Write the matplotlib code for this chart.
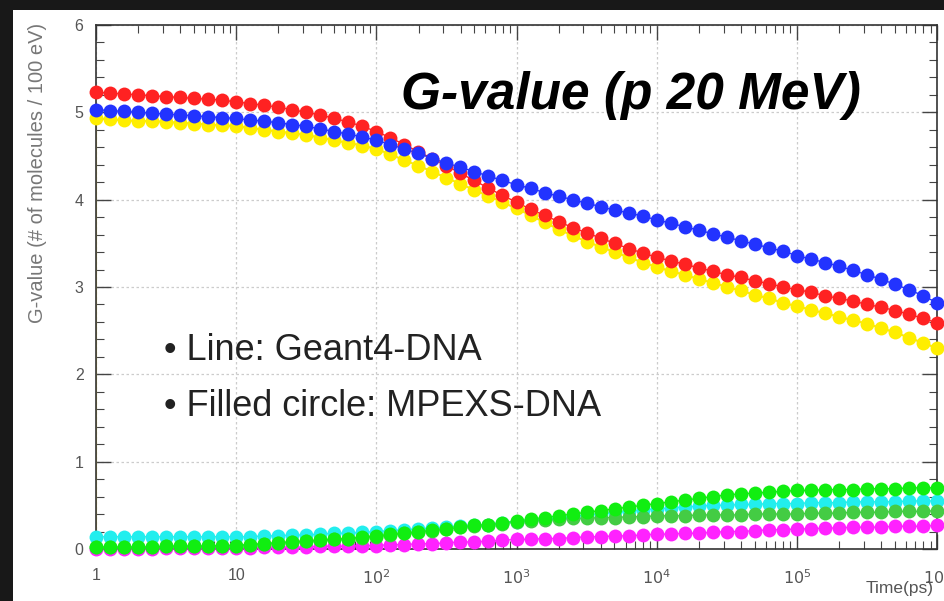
import matplotlib
matplotlib.use("Agg")
import matplotlib.pyplot as plt
from matplotlib.patches import Rectangle
from matplotlib.ticker import FixedLocator, MultipleLocator, LogLocator, NullFormatter

plt.rcParams['font.family'] = ['Liberation Sans', 'DejaVu Sans']

# time points (ps), 10 per decade from 1 to 1e6
time_ps = [round(10 ** (i / 10), 4) for i in range(61)]

red = [5.23, 5.22, 5.21, 5.20, 5.19, 5.18, 5.17, 5.16, 5.15, 5.14, 5.12,
       5.10, 5.08, 5.06, 5.03, 5.00, 4.97, 4.93, 4.89, 4.84, 4.78,
       4.71, 4.63, 4.55, 4.47, 4.39, 4.30, 4.22, 4.13, 4.05, 3.97,
       3.89, 3.82, 3.75, 3.68, 3.62, 3.56, 3.50, 3.44, 3.39, 3.34,
       3.30, 3.26, 3.22, 3.18, 3.14, 3.11, 3.07, 3.04, 3.00, 2.97,
       2.94, 2.90, 2.87, 2.84, 2.80, 2.77, 2.73, 2.69, 2.64, 2.59]

blue = [5.03, 5.02, 5.01, 5.00, 4.99, 4.98, 4.97, 4.96, 4.95, 4.94, 4.93,
        4.91, 4.90, 4.88, 4.86, 4.84, 4.81, 4.78, 4.75, 4.72, 4.68,
        4.63, 4.58, 4.53, 4.47, 4.42, 4.37, 4.32, 4.27, 4.22, 4.17,
        4.13, 4.08, 4.04, 4.00, 3.96, 3.92, 3.88, 3.85, 3.81, 3.77,
        3.73, 3.69, 3.65, 3.61, 3.57, 3.53, 3.49, 3.45, 3.41, 3.36,
        3.32, 3.28, 3.24, 3.19, 3.14, 3.09, 3.03, 2.97, 2.90, 2.82]

yellow = [4.93, 4.92, 4.91, 4.90, 4.90, 4.89, 4.88, 4.87, 4.86, 4.85, 4.84,
          4.82, 4.80, 4.78, 4.76, 4.74, 4.71, 4.68, 4.65, 4.62, 4.58,
          4.52, 4.45, 4.39, 4.32, 4.25, 4.18, 4.11, 4.04, 3.97, 3.90,
          3.82, 3.74, 3.66, 3.59, 3.52, 3.46, 3.40, 3.34, 3.28, 3.23,
          3.18, 3.14, 3.09, 3.05, 3.00, 2.96, 2.91, 2.87, 2.82, 2.78,
          2.74, 2.70, 2.66, 2.62, 2.58, 2.53, 2.48, 2.42, 2.36, 2.30]

lime = [0.02, 0.02, 0.02, 0.02, 0.02, 0.03, 0.03, 0.03, 0.03, 0.04, 0.04,
        0.05, 0.06, 0.07, 0.08, 0.09, 0.10, 0.11, 0.12, 0.14, 0.15,
        0.17, 0.18, 0.20, 0.22, 0.23, 0.25, 0.27, 0.28, 0.30, 0.32,
        0.34, 0.36, 0.38, 0.40, 0.42, 0.44, 0.46, 0.48, 0.50, 0.52,
        0.54, 0.56, 0.58, 0.60, 0.62, 0.63, 0.64, 0.65, 0.66, 0.67,
        0.67, 0.68, 0.68, 0.68, 0.69, 0.69, 0.69, 0.70, 0.70, 0.70]

cyan = [0.14, 0.14, 0.14, 0.14, 0.14, 0.14, 0.14, 0.14, 0.14, 0.14, 0.14,
        0.14, 0.15, 0.15, 0.16, 0.16, 0.17, 0.18, 0.18, 0.19, 0.20,
        0.21, 0.22, 0.23, 0.24, 0.25, 0.26, 0.27, 0.28, 0.30, 0.31,
        0.33, 0.34, 0.36, 0.37, 0.39, 0.40, 0.42, 0.43, 0.45, 0.46,
        0.47, 0.48, 0.49, 0.50, 0.50, 0.51, 0.51, 0.52, 0.52, 0.52,
        0.53, 0.53, 0.53, 0.54, 0.54, 0.54, 0.54, 0.55, 0.55, 0.55]

green = [0.02, 0.02, 0.02, 0.02, 0.02, 0.03, 0.03, 0.03, 0.03, 0.04, 0.04,
         0.05, 0.06, 0.07, 0.08, 0.09, 0.10, 0.11, 0.12, 0.13, 0.14,
         0.16, 0.18, 0.19, 0.21, 0.23, 0.25, 0.26, 0.28, 0.29, 0.31,
         0.32, 0.33, 0.34, 0.35, 0.35, 0.36, 0.36, 0.37, 0.37, 0.38,
         0.38, 0.38, 0.39, 0.39, 0.39, 0.39, 0.40, 0.40, 0.40, 0.40,
         0.41, 0.41, 0.41, 0.42, 0.42, 0.42, 0.43, 0.43, 0.43, 0.44]

magenta = [0.00, 0.00, 0.00, 0.00, 0.00, 0.01, 0.01, 0.01, 0.01, 0.01, 0.01,
           0.01, 0.02, 0.02, 0.02, 0.02, 0.03, 0.03, 0.03, 0.04, 0.04,
           0.05, 0.05, 0.06, 0.06, 0.07, 0.08, 0.08, 0.09, 0.10, 0.11,
           0.11, 0.12, 0.12, 0.13, 0.14, 0.14, 0.15, 0.15, 0.16, 0.17,
           0.17, 0.18, 0.18, 0.19, 0.20, 0.20, 0.21, 0.22, 0.22, 0.23,
           0.23, 0.24, 0.24, 0.25, 0.25, 0.25, 0.26, 0.26, 0.26, 0.27]

yellow_line_start = 0.0

x_ticks = [1, 10, 100, 1000, 1e4, 1e5, 1e6]
x_tick_labels = ['1', '10', '$10^{2}$', '$10^{3}$', '$10^{4}$', '$10^{5}$', '$10^{6}$']
y_ticks = [0, 1, 2, 3, 4, 5, 6]

W, H = 944, 601
fig = plt.figure(figsize=(W / 100, H / 100), dpi=100)
fig.patch.set_facecolor('#181818')
fig.patches.append(Rectangle((13 / W, 0), 1, 1 - 10 / H, transform=fig.transFigure,
                             facecolor='white', edgecolor='none', zorder=-5))

ax = fig.add_axes([96 / W, 1 - 549 / H, (937 - 96) / W, (549 - 25) / H])
ax.set_zorder(2)
ax.set_facecolor('white')
ax.set_xscale('log')
ax.set_xlim(1, 1e6)
ax.set_ylim(0, 6)

series = [
    (magenta, '#ff22ff'),
    (cyan, '#22eeee'),
    (green, '#44cc44'),
    (lime, '#11ee11'),
    (yellow, '#ffee00'),
    (red, '#ff2222'),
    (blue, '#2233ff'),
]
# Geant4-DNA lines
ax.plot([time_ps[0]] + time_ps, [yellow_line_start] + yellow, color='#e8d860', lw=1.5, zorder=2)
for vals, col in series:
    ax.plot(time_ps, vals, color=col, lw=1.0, zorder=2)
# MPEXS-DNA filled circles
for k, (vals, col) in enumerate(series):
    ax.plot(time_ps, vals, linestyle='none', marker='o', ms=10, color=col,
            markeredgewidth=0, zorder=3 + k, clip_on=False)

ax.xaxis.set_major_locator(FixedLocator(x_ticks))
ax.set_xticklabels(x_tick_labels)
ax.xaxis.set_minor_locator(LogLocator(base=10, subs=[2, 3, 4, 5, 6, 7, 8, 9], numticks=20))
ax.xaxis.set_minor_formatter(NullFormatter())
ax.yaxis.set_major_locator(FixedLocator(y_ticks))
ax.yaxis.set_minor_locator(MultipleLocator(0.2))

ax.grid(True, which='major', color='#cccccc', linestyle=(0, (2, 2)), lw=0.9)
ax.tick_params(which='both', direction='in', top=True, right=True, colors='#444444',
               labelsize=11.5, labelcolor='#555555')
ax.tick_params(which='major', length=11, width=1.0)
ax.tick_params(which='minor', length=6, width=0.8)
ax.tick_params(axis='x', pad=14)
ax.tick_params(axis='y', pad=9)
for s in ax.spines.values():
    s.set_color('#333333')
    s.set_linewidth(1.2)

fig.text(38 / W, 1 - 23 / H, 'G-value (# of molecules / 100 eV)', rotation=90,
         ha='center', va='top', fontsize=14.5, color='#777777')
fig.text(934 / W, 1 - 589 / H, 'Time(ps)', ha='right', va='center', fontsize=12.5,
         color='#555555')

fig.text(631 / W, 1 - 95 / H, 'G-value (p 20 MeV)', ha='center', va='center',
         fontsize=37, fontweight='bold', fontstyle='italic', color='black', zorder=10)
fig.text(164 / W, 1 - 351 / H, '\u2022 Line: Geant4-DNA', ha='left', va='center',
         fontsize=26, color='#222222', zorder=10)
fig.text(164 / W, 1 - 406 / H, '\u2022 Filled circle: MPEXS-DNA', ha='left', va='center',
         fontsize=26, color='#222222', zorder=10)

fig.savefig('out.png', dpi=100, facecolor=fig.get_facecolor())
